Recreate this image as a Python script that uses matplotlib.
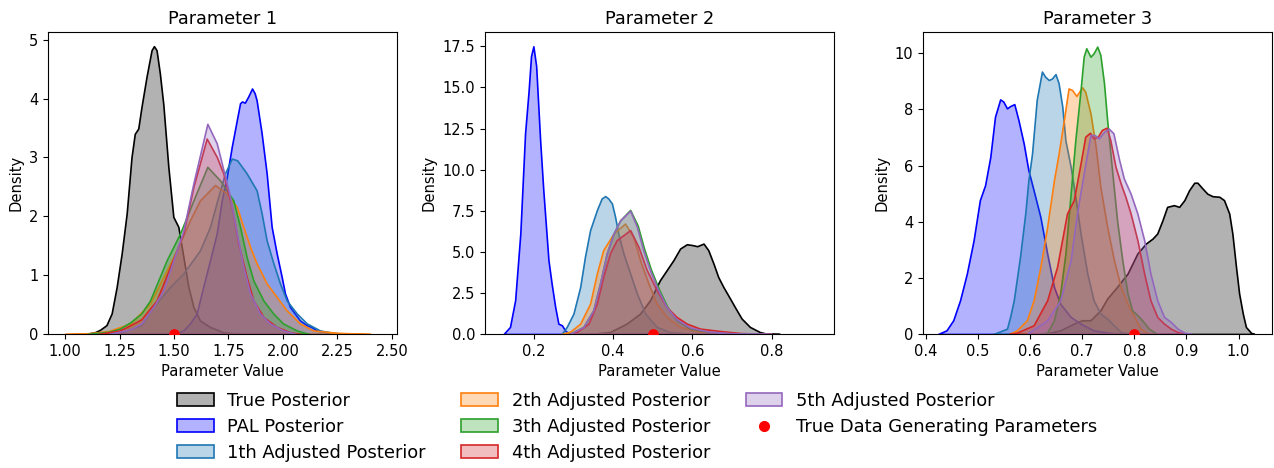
import matplotlib
matplotlib.use("Agg")
import matplotlib.pyplot as plt
from matplotlib.colors import to_rgba
from matplotlib.patches import Patch
from matplotlib.lines import Line2D

# ---------------- data ----------------
titles = ["Parameter 1", "Parameter 2", "Parameter 3"]
true_params = [1.5, 0.5, 0.8]
labels = ["True Posterior", "PAL Posterior", "1th Adjusted Posterior",
          "2th Adjusted Posterior", "3th Adjusted Posterior",
          "4th Adjusted Posterior", "5th Adjusted Posterior"]
colors = ["black", "blue", "tab:blue", "tab:orange", "tab:green", "tab:red", "tab:purple"]

# Parameter 1
p1_true_x = [1.05, 1.10, 1.137, 1.16, 1.19, 1.214, 1.237, 1.26, 1.283, 1.305, 1.32, 1.336, 1.351, 1.374,
             1.397, 1.408, 1.42, 1.435, 1.451, 1.474, 1.497, 1.52, 1.543, 1.566, 1.589, 1.619, 1.665, 1.726, 1.80]
p1_true_y = [0, 0.005, 0.03, 0.07, 0.15, 0.35, 0.8, 1.37, 2.05, 3.0, 3.4, 3.49, 3.86, 4.37,
             4.82, 4.89, 4.82, 4.43, 3.9, 2.84, 1.99, 1.82, 1.31, 0.8, 0.46, 0.23, 0.12, 0.03, 0]
p1_pal_x = [1.50, 1.543, 1.573, 1.604, 1.634, 1.665, 1.696, 1.719, 1.742, 1.765, 1.788, 1.803, 1.812, 1.825,
            1.84, 1.858, 1.87, 1.879, 1.902, 1.925, 1.948, 1.971, 1.994, 2.009, 2.032, 2.078, 2.109, 2.13,
            2.155, 2.23, 2.31]
p1_pal_y = [0, 0.06, 0.18, 0.35, 0.8, 1.25, 1.71, 2.27, 2.67, 3.18, 3.63, 3.92, 3.95, 3.93,
            4.03, 4.17, 4.09, 3.97, 3.41, 2.73, 1.82, 1.37, 0.97, 0.69, 0.46, 0.23, 0.15, 0.12,
            0.06, 0.01, 0]
p1_adj1_x = [1.15, 1.25, 1.35, 1.405, 1.482, 1.543, 1.619, 1.665, 1.703, 1.734, 1.765, 1.79, 1.833, 1.879,
             1.902, 1.925, 1.956, 1.986, 2.017, 2.063, 2.109, 2.17, 2.23, 2.30]
p1_adj1_y = [0, 0.02, 0.15, 0.46, 0.8, 1.03, 1.42, 1.82, 2.33, 2.73, 2.98, 2.95, 2.73, 2.44,
             2.05, 1.59, 1.2, 0.86, 0.57, 0.35, 0.18, 0.06, 0.02, 0]
p1_adj2_x = [1.00, 1.10, 1.20, 1.30, 1.39, 1.451, 1.512, 1.573, 1.619, 1.688, 1.742, 1.788, 1.818, 1.849,
             1.879, 1.925, 1.971, 2.017, 2.078, 2.139, 2.25, 2.40]
p1_adj2_y = [0, 0.01, 0.05, 0.18, 0.52, 0.97, 1.42, 1.93, 2.27, 2.53, 2.39, 2.16, 1.82, 1.48,
             1.2, 0.86, 0.63, 0.4, 0.18, 0.06, 0.02, 0]
p1_adj3_x = [1.10, 1.20, 1.25, 1.30, 1.35, 1.39, 1.466, 1.528, 1.589, 1.653, 1.711, 1.772, 1.803, 1.833,
             1.864, 1.91, 1.955, 2.0, 2.063, 2.12]
p1_adj3_y = [0, 0.04, 0.09, 0.2, 0.35, 0.57, 1.25, 1.71, 2.27, 2.84, 2.61, 2.27, 1.82, 1.31,
             0.91, 0.57, 0.35, 0.18, 0.06, 0]
p1_adj4_x = [1.15, 1.25, 1.30, 1.35, 1.42, 1.482, 1.543, 1.589, 1.65, 1.696, 1.726, 1.765, 1.795, 1.833,
             1.864, 1.91, 1.971, 2.032, 2.08]
p1_adj4_y = [0, 0.06, 0.15, 0.25, 0.57, 1.14, 1.71, 2.5, 3.32, 3.01, 2.73, 2.16, 1.54, 0.97,
             0.57, 0.29, 0.12, 0.03, 0]
p1_adj5_x = [1.20, 1.30, 1.35, 1.405, 1.451, 1.497, 1.543, 1.589, 1.653, 1.696, 1.719, 1.757, 1.788, 1.818,
             1.849, 1.894, 1.94, 2.0, 2.06]
p1_adj5_y = [0, 0.08, 0.18, 0.46, 0.74, 1.25, 1.76, 2.56, 3.57, 3.24, 2.9, 2.33, 1.71, 1.14,
             0.69, 0.35, 0.18, 0.06, 0]

# Parameter 2
p2_true_x = [0.34, 0.392, 0.434, 0.468, 0.493, 0.518, 0.535, 0.552, 0.569, 0.586, 0.602, 0.612, 0.628, 0.64,
             0.653, 0.665, 0.678, 0.69, 0.707, 0.724, 0.745, 0.77, 0.787, 0.82]
p2_true_y = [0, 0.12, 0.63, 1.24, 2.05, 3.27, 3.88, 4.49, 5.2, 5.46, 5.4, 5.34, 5.5, 5.1,
             4.29, 3.47, 2.86, 2.36, 1.64, 0.94, 0.43, 0.12, 0.02, 0]
p2_pal_x = [0.124, 0.14, 0.153, 0.166, 0.178, 0.187, 0.193, 0.199, 0.206, 0.216, 0.224, 0.237, 0.245, 0.254,
            0.262, 0.271, 0.279, 0.287, 0.30]
p2_pal_y = [0, 0.43, 2.05, 6.1, 12.2, 14.8, 16.9, 17.5, 16.3, 11.8, 8.75, 4.49, 3.07, 1.64,
            0.63, 0.53, 0.22, 0.05, 0]
p2_adj1_x = [0.27, 0.283, 0.30, 0.317, 0.329, 0.342, 0.359, 0.371, 0.38, 0.388, 0.397, 0.405, 0.413, 0.426,
             0.443, 0.46, 0.481, 0.51, 0.543, 0.60]
p2_adj1_y = [0, 0.43, 1.24, 2.86, 4.69, 6.32, 7.53, 8.24, 8.39, 8.24, 7.94, 7.13, 6.11, 4.9,
             3.68, 2.46, 1.24, 0.43, 0.12, 0]
p2_adj2_x = [0.27, 0.292, 0.317, 0.342, 0.359, 0.375, 0.401, 0.43, 0.451, 0.468, 0.489, 0.51, 0.535, 0.569,
             0.62, 0.70]
p2_adj2_y = [0, 0.15, 0.63, 1.85, 3.68, 5.1, 6.11, 6.72, 5.91, 4.49, 3.07, 1.85, 1.04, 0.43,
             0.12, 0]
p2_adj3_x = [0.29, 0.325, 0.35, 0.367, 0.384, 0.401, 0.418, 0.443, 0.462, 0.478, 0.495, 0.516, 0.537, 0.56,
             0.594, 0.64, 0.70]
p2_adj3_y = [0, 0.43, 1.44, 3.07, 4.9, 6.11, 6.92, 7.55, 6.6, 5.2, 3.95, 2.7, 1.64, 0.83,
             0.33, 0.12, 0]
p2_adj4_x = [0.29, 0.31, 0.338, 0.359, 0.375, 0.392, 0.409, 0.443, 0.464, 0.485, 0.51, 0.535, 0.56, 0.586,
             0.619, 0.67, 0.72, 0.80]
p2_adj4_y = [0, 0.15, 0.63, 1.85, 3.47, 4.9, 5.71, 6.32, 5.3, 3.88, 2.66, 1.64, 1.04, 0.63,
             0.33, 0.18, 0.06, 0]
p2_adj5_x = [0.29, 0.325, 0.35, 0.367, 0.384, 0.401, 0.418, 0.443, 0.46, 0.476, 0.493, 0.514, 0.535, 0.56,
             0.594, 0.64, 0.70, 0.80]
p2_adj5_y = [0, 0.43, 1.44, 3.07, 4.9, 6.11, 6.92, 7.5, 6.52, 5.1, 3.88, 2.66, 1.64, 0.9,
             0.4, 0.15, 0.05, 0]

# Parameter 3
p3_true_x = [0.626, 0.658, 0.684, 0.70, 0.716, 0.735, 0.748, 0.767, 0.787, 0.806, 0.822, 0.835, 0.844, 0.854,
             0.863, 0.876, 0.886, 0.896, 0.905, 0.915, 0.921, 0.931, 0.94, 0.95, 0.963, 0.972, 0.982, 0.988,
             0.995, 1.001, 1.008, 1.014, 1.024, 1.03]
p3_true_y = [0, 0.13, 0.37, 0.49, 0.49, 0.84, 1.26, 1.68, 2.15, 2.87, 3.22, 3.4, 3.58, 4.05,
             4.53, 4.59, 4.53, 4.77, 5.12, 5.39, 5.39, 5.18, 5.0, 4.91, 4.89, 4.77, 4.29, 3.58,
             2.39, 1.44, 0.73, 0.25, 0.04, 0]
p3_pal_x = [0.424, 0.44, 0.453, 0.466, 0.479, 0.492, 0.504, 0.514, 0.524, 0.533, 0.543, 0.549, 0.556, 0.562,
            0.57, 0.578, 0.588, 0.597, 0.607, 0.62, 0.633, 0.646, 0.658, 0.678, 0.697, 0.722, 0.754, 0.786]
p3_pal_y = [0, 0.13, 0.49, 1.2, 2.15, 3.34, 4.77, 5.3, 6.31, 7.74, 8.36, 8.28, 8.04, 8.12,
            8.19, 7.62, 6.79, 5.84, 5.12, 4.17, 2.87, 1.68, 1.08, 0.61, 0.37, 0.13, 0.04, 0]
p3_adj1_x = [0.53, 0.556, 0.562, 0.569, 0.581, 0.591, 0.597, 0.604, 0.613, 0.623, 0.629, 0.636, 0.642, 0.649,
             0.655, 0.662, 0.668, 0.678, 0.687, 0.697, 0.71, 0.722, 0.735, 0.748, 0.761, 0.774, 0.80]
p3_adj1_y = [0, 0.19, 0.61, 1.2, 2.75, 4.29, 5.48, 6.43, 8.34, 9.35, 9.17, 9.05, 9.1, 9.26,
             8.93, 8.1, 6.9, 5.96, 4.89, 3.58, 2.15, 1.2, 0.73, 0.55, 0.31, 0.07, 0]
p3_adj2_x = [0.56, 0.575, 0.594, 0.607, 0.62, 0.633, 0.646, 0.655, 0.665, 0.674, 0.681, 0.689, 0.70, 0.706,
             0.716, 0.726, 0.735, 0.748, 0.761, 0.774, 0.787, 0.80, 0.812, 0.825, 0.84]
p3_adj2_y = [0, 0.13, 0.49, 1.2, 2.39, 3.82, 5.48, 6.43, 7.62, 8.75, 8.69, 8.48, 8.79, 8.63,
             7.86, 6.67, 5.24, 3.82, 2.63, 1.68, 1.08, 0.61, 0.19, 0.04, 0]
p3_adj3_x = [0.62, 0.633, 0.646, 0.658, 0.668, 0.678, 0.687, 0.697, 0.703, 0.708, 0.716, 0.722, 0.729, 0.735,
             0.742, 0.748, 0.758, 0.767, 0.777, 0.787, 0.796, 0.806, 0.815, 0.828, 0.844]
p3_adj3_y = [0, 0.05, 0.49, 1.44, 2.87, 5.0, 6.91, 8.69, 9.88, 10.18, 9.88, 10.0, 10.24, 9.94,
             8.93, 7.62, 5.72, 4.05, 2.63, 1.44, 0.84, 0.67, 0.49, 0.19, 0]
p3_adj4_x = [0.56, 0.575, 0.607, 0.633, 0.652, 0.671, 0.684, 0.697, 0.706, 0.715, 0.722, 0.73, 0.738, 0.747,
             0.754, 0.764, 0.774, 0.783, 0.793, 0.806, 0.819, 0.831, 0.844, 0.857, 0.87, 0.883, 0.90]
p3_adj4_y = [0, 0.05, 0.31, 1.2, 2.39, 4.29, 4.77, 6.08, 7.03, 7.17, 6.97, 7.03, 7.27, 7.35,
             6.91, 5.96, 5.36, 4.89, 4.29, 3.34, 2.15, 1.2, 0.61, 0.37, 0.19, 0.07, 0]
p3_adj5_x = [0.594, 0.633, 0.658, 0.678, 0.69, 0.703, 0.716, 0.724, 0.732, 0.742, 0.751, 0.76, 0.771, 0.78,
             0.793, 0.806, 0.819, 0.831, 0.844, 0.857, 0.87, 0.883, 0.896, 0.91]
p3_adj5_y = [0, 0.49, 1.2, 2.63, 4.29, 5.72, 7.09, 7.09, 6.97, 7.2, 7.32, 7.15, 6.2, 5.54,
             5.0, 4.29, 3.34, 2.15, 1.2, 0.61, 0.43, 0.19, 0.05, 0]

x_limits = [(0.922, 2.523), (0.077, 0.957), (0.395, 1.064)]
y_limits = [(0, 5.13), (0, 18.37), (0, 10.76)]

panels = [
    [(p1_true_x, p1_true_y), (p1_pal_x, p1_pal_y), (p1_adj1_x, p1_adj1_y), (p1_adj2_x, p1_adj2_y),
     (p1_adj3_x, p1_adj3_y), (p1_adj4_x, p1_adj4_y), (p1_adj5_x, p1_adj5_y)],
    [(p2_true_x, p2_true_y), (p2_pal_x, p2_pal_y), (p2_adj1_x, p2_adj1_y), (p2_adj2_x, p2_adj2_y),
     (p2_adj3_x, p2_adj3_y), (p2_adj4_x, p2_adj4_y), (p2_adj5_x, p2_adj5_y)],
    [(p3_true_x, p3_true_y), (p3_pal_x, p3_pal_y), (p3_adj1_x, p3_adj1_y), (p3_adj2_x, p3_adj2_y),
     (p3_adj3_x, p3_adj3_y), (p3_adj4_x, p3_adj4_y), (p3_adj5_x, p3_adj5_y)],
]

# ---------------- figure ----------------
W, H = 1274, 468
fig = plt.figure(figsize=(W / 100, H / 100), dpi=100)
lefts = [48, 485, 923]
ax_w, ax_top, ax_bot = 349, 32, 334

for i, left in enumerate(lefts):
    ax = fig.add_axes([left / W, (H - ax_bot) / H, ax_w / W, (ax_bot - ax_top) / H])
    for (xs, ys), c in zip(panels[i], colors):
        ax.fill_between(xs, ys, facecolor=to_rgba(c, 0.3), edgecolor=c, linewidth=1.2)
    ax.scatter([true_params[i]], [0], color="red", s=45, zorder=5)
    ax.set_xlim(*x_limits[i])
    ax.set_ylim(*y_limits[i])
    ax.set_title(titles[i], fontsize=12.7)
    ax.set_xlabel("Parameter Value", fontsize=10.6)
    ax.set_ylabel("Density", fontsize=10.6)
    ax.tick_params(labelsize=10.5)

handles = [Patch(facecolor=to_rgba(c, 0.3), edgecolor=c, linewidth=1.2) for c in colors]
handles.append(Line2D([], [], marker="o", linestyle="none", color="red", markersize=7))
leg_labels = labels + ["True Data Generating Parameters"]
fig.legend(handles, leg_labels, loc="upper center", bbox_to_anchor=(0.5, (H - 392) / H),
           ncol=3, frameon=False, fontsize=12.9, labelspacing=0.44, handletextpad=0.75,
           handlelength=2.05, columnspacing=2.0, borderaxespad=0, borderpad=0)

fig.savefig("out.png", dpi=100)
